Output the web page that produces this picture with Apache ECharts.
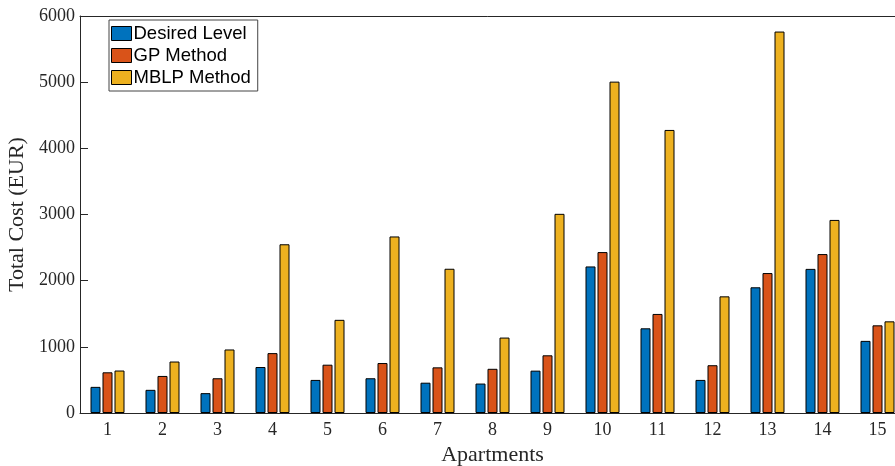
<!DOCTYPE html>
<html>
<head>
<meta charset="utf-8">
<script src="https://cdn.jsdelivr.net/npm/echarts@6/dist/echarts.min.js"></script>
<style>
html,body{margin:0;padding:0;background:#fff;}
#c{width:895px;height:466px;}
</style>
</head>
<body>
<div id="c"></div>
<script>
const categories = ['1','2','3','4','5','6','7','8','9','10','11','12','13','14','15'];
const desiredLevel = [395, 350, 300, 695, 500, 525, 458, 445, 640, 2215, 1280, 500, 1900, 2178, 1090];
const gpMethod     = [615, 560, 525, 905, 730, 755, 690, 668, 872, 2432, 1497, 722, 2115, 2402, 1325];
const mblpMethod   = [642, 778, 960, 2550, 1408, 2668, 2180, 1140, 3010, 5008, 4278, 1763, 5765, 2918, 1385];
const yTicks = [0, 1000, 2000, 3000, 4000, 5000, 6000];

const serif = '"Liberation Serif", "DejaVu Serif", serif';
const axisColor = '#262626';
const chart = echarts.init(document.getElementById('c'));
function mk(name, data, color) {
  return {
    name: name, type: 'bar', data: data,
    barWidth: 10, barGap: '20%',
    itemStyle: { color: color, borderColor: '#000', borderWidth: 1 },
    emphasis: { disabled: true }
  };
}
chart.setOption({
  animation: false,
  backgroundColor: '#fff',
  grid: { left: 80, top: 16, width: 825, height: 397, containLabel: false, outerBoundsMode: 'none' },
  legend: {
    orient: 'vertical', left: 109, top: 20,
    icon: 'rect',
    itemWidth: 20, itemHeight: 14, itemGap: 3,
    padding: [4, 7, 4, 2],
    borderColor: '#444', borderWidth: 1, backgroundColor: '#fff',
    textStyle: { fontFamily: '"Liberation Sans", Arial, sans-serif', fontSize: 18.5, lineHeight: 18.5, color: '#000', padding: [0,0,0,-3] },
    itemStyle: { borderColor: '#000', borderWidth: 1 },
    data: ['Desired Level', 'GP Method', 'MBLP Method']
  },
  xAxis: [{
    type: 'category', data: categories, boundaryGap: true, z: 5,
    name: 'Apartments', nameLocation: 'middle', nameGap: 29,
    nameTextStyle: { fontFamily: serif, fontSize: 22, color: axisColor },
    axisLine: { lineStyle: { color: axisColor, width: 1 } },
    axisTick: { alignWithLabel: true, inside: true, length: 8, lineStyle: { color: axisColor } },
    axisLabel: { fontFamily: serif, fontSize: 18, color: axisColor, margin: 8 }
  }, {
    type: 'category', data: categories, boundaryGap: true, position: 'top', z: 5,
    axisLine: { lineStyle: { color: axisColor, width: 1 } },
    axisTick: { alignWithLabel: true, inside: true, length: 8, lineStyle: { color: axisColor } },
    axisLabel: { show: false }
  }],
  yAxis: {
    type: 'value', min: 0, max: 6000, interval: 1000, z: 5,
    name: 'Total Cost (EUR)', nameLocation: 'middle', nameGap: 51,
    nameTextStyle: { fontFamily: serif, fontSize: 22, color: axisColor },
    axisLine: { show: true, lineStyle: { color: axisColor, width: 1 } },
    axisTick: { show: true, inside: true, length: 8, lineStyle: { color: axisColor } },
    splitLine: { show: false },
    axisLabel: { fontFamily: serif, fontSize: 18, color: axisColor, margin: 5,
      formatter: v => yTicks.includes(v) ? String(v) : '' }
  },
  series: [
    mk('Desired Level', desiredLevel, '#0072BD'),
    mk('GP Method', gpMethod, '#D95319'),
    mk('MBLP Method', mblpMethod, '#EDB120')
  ]
});
</script>
</body>
</html>
